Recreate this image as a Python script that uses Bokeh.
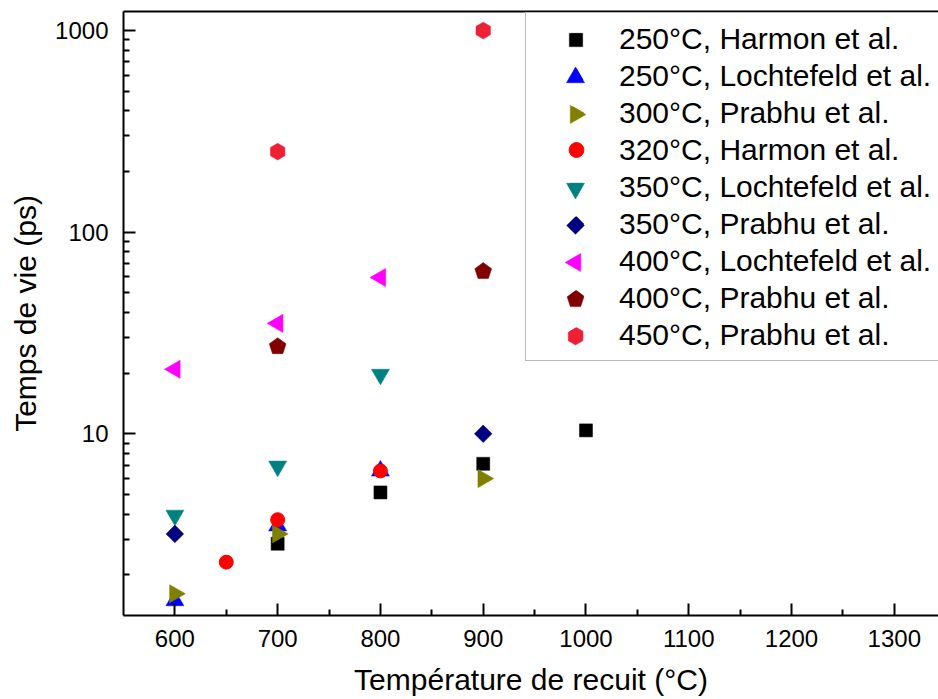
import numpy as np
from bokeh.plotting import figure
from bokeh.models import Range1d, FixedTicker, LinearAxis, Legend, LegendItem, PrintfTickFormatter
from bokeh.embed import file_html
from bokeh.resources import INLINE

# ---- data ----
harmon250_x = [700, 800, 900, 1000]
harmon250_y = [2.85, 5.12, 7.1, 10.4]
loch250_x = [600, 700, 800]
loch250_y = [1.49, 3.5, 6.55]
prabhu300_x = [600, 700, 900]
prabhu300_y = [1.61, 3.19, 6.0]
harmon320_x = [650, 700, 800]
harmon320_y = [2.31, 3.75, 6.55]
loch350_x = [600, 700, 800]
loch350_y = [3.94, 6.9, 19.7]
prabhu350_x = [600, 900]
prabhu350_y = [3.19, 10.0]
loch400_x = [600, 700, 800]
loch400_y = [20.9, 35.3, 59.6]
prabhu400_x = [700, 900]
prabhu400_y = [27.1, 63.9]
prabhu450_x = [700, 900]
prabhu450_y = [251, 1000]

labels = ["250°C, Harmon et al.", "250°C, Lochtefeld et al.", "300°C, Prabhu et al.",
          "320°C, Harmon et al.", "350°C, Lochtefeld et al.", "350°C, Prabhu et al.",
          "400°C, Lochtefeld et al.", "400°C, Prabhu et al.", "450°C, Prabhu et al."]
x_ticks = [600, 700, 800, 900, 1000, 1100, 1200, 1300]
x_minor = [650, 750, 850, 950, 1050, 1150, 1250]
y_ticks = [10, 100, 1000]
y_minor = [2, 3, 4, 5, 6, 7, 8, 9, 20, 30, 40, 50, 60, 70, 80, 90, 200, 300, 400, 500, 600, 700, 800, 900]

FONT = "Liberation Sans"

p = figure(width=938, height=699, x_range=Range1d(550, 1343), y_range=Range1d(1.256, 1243),
           y_axis_type="log", output_backend="svg", toolbar_location=None,
           min_border_left=123, min_border_right=0, min_border_top=11, min_border_bottom=84)
p.outline_line_color = None
p.xgrid.visible = False
p.ygrid.visible = False
p.background_fill_color = "white"
p.border_fill_color = "white"

for ax in (p.xaxis[0], p.yaxis[0]):
    ax.axis_line_width = 2
    ax.major_tick_line_width = 2
    ax.minor_tick_line_width = 2
    ax.major_tick_in = 12
    ax.major_tick_out = 0
    ax.minor_tick_in = 6
    ax.minor_tick_out = 0
    ax.major_label_text_font = FONT
    ax.major_label_text_font_size = "24px"
    ax.major_label_text_color = "black"
    ax.axis_label_text_font = FONT
    ax.axis_label_text_font_size = "30px"
    ax.axis_label_text_font_style = "normal"
    ax.axis_label_text_color = "black"

p.xaxis[0].ticker = FixedTicker(ticks=x_ticks, minor_ticks=x_minor)
p.yaxis[0].ticker = FixedTicker(ticks=y_ticks, minor_ticks=y_minor)
p.yaxis[0].formatter = PrintfTickFormatter(format="%d")
p.xaxis[0].axis_label = "Température de recuit (°C)"
p.yaxis[0].axis_label = "Temps de vie (ps)"
p.xaxis[0].major_label_standoff = 14
p.xaxis[0].axis_label_standoff = 13
p.yaxis[0].axis_label_standoff = 10
p.yaxis[0].major_label_standoff = 15

top_axis = LinearAxis(ticker=FixedTicker(ticks=[]), axis_line_width=2,
                      major_tick_out=0, minor_tick_out=0, major_tick_in=0, minor_tick_in=0,
                      major_label_text_font_size="0px")
p.add_layout(top_axis, "above")


def ngon(xs, ys, n, r, ang, col):
    return p.ngon(xs, ys, radius=r, radius_units="screen", n=n, angle=ang,
                  fill_color=col, line_color=col, line_width=0.5)


# Ngon: angle 0 -> first vertex pointing up; positive angle rotates counter-clockwise
rs = []
rs.append(ngon(harmon250_x, harmon250_y, 4, 9.2, np.pi / 4, "black"))      # square
rs.append(ngon(loch250_x, loch250_y, 3, 10.4, 0.0, "#0000FF"))             # up triangle
rs.append(ngon(prabhu300_x, prabhu300_y, 3, 10.5, -np.pi / 2, "#808000"))  # right triangle
rs.append(p.scatter(harmon320_x, harmon320_y, marker="circle", size=14, color="#FF0000"))
rs.append(ngon(loch350_x, loch350_y, 3, 10.4, np.pi, "#008080"))           # down triangle
rs.append(ngon(prabhu350_x, prabhu350_y, 4, 8.8, 0.0, "#000080"))          # diamond
rs.append(ngon(loch400_x, loch400_y, 3, 10.5, np.pi / 2, "#FF00FF"))       # left triangle
rs.append(ngon(prabhu400_x, prabhu400_y, 5, 8.8, 0.0, "#800000"))          # pentagon
rs.append(ngon(prabhu450_x, prabhu450_y, 6, 8.35, 0.0, "#EE2036"))         # hexagon

# main legend (labels + box)
GW, GH, PAD = 86, 37, 7
LX, LY = 402, 254
N = len(labels)
legend = Legend(items=[LegendItem(label=l, renderers=[r]) for l, r in zip(labels, rs)],
                location=(LX, LY), padding=PAD, spacing=0, margin=0,
                glyph_height=GH, glyph_width=GW, label_standoff=0, label_width=335,
                label_text_font=FONT, label_text_font_size="30px", label_text_color="black",
                border_line_color="#777777", border_line_width=1.5,
                background_fill_color="white", background_fill_alpha=1.0)
p.add_layout(legend)

# legend glyph overlays so each legend symbol gets its own size
glyph_px = [47, 52, 52, None, 52, 44, 52, 44, 42]
for i, (r, G) in enumerate(zip(rs, glyph_px)):
    if G is None:
        continue
    cx = LX + PAD + GW / 2
    cy = LY + PAD + (N - 1 - i) * GH + GH / 2
    ov = Legend(items=[LegendItem(label=" ", renderers=[r])],
                location=(cx - G / 2, cy - G / 2), padding=0, spacing=0, margin=0,
                glyph_width=G, glyph_height=G, label_standoff=0, label_width=0, label_height=0,
                label_text_font_size="1px", border_line_color=None,
                background_fill_alpha=0)
    p.add_layout(ov)

open("out.html", "w").write(file_html(p, INLINE))
